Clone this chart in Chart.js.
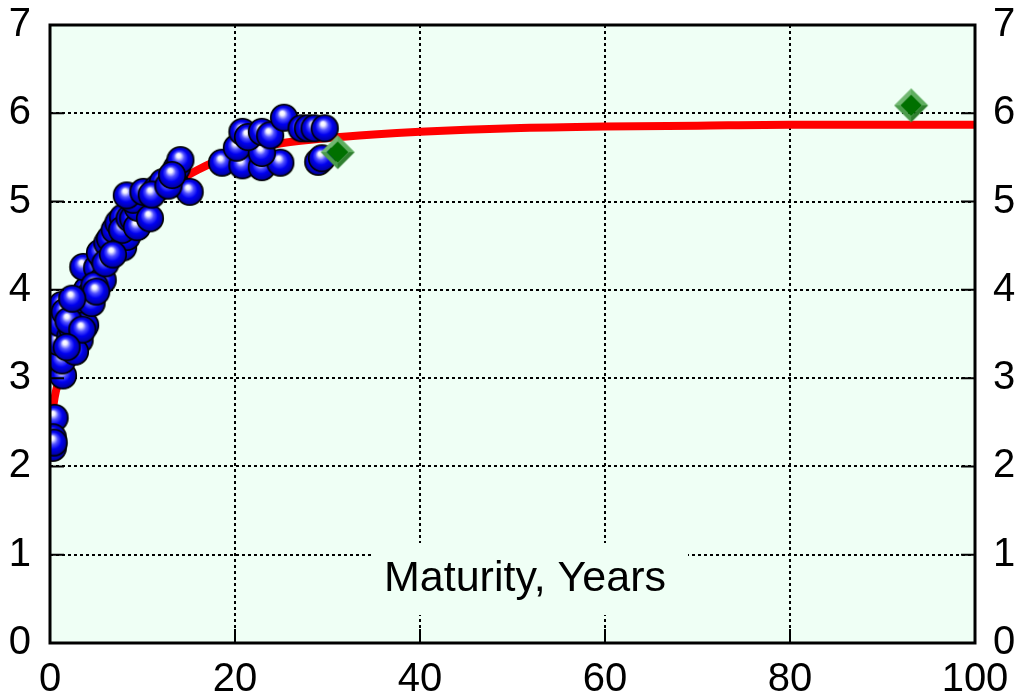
<!DOCTYPE html>
<html>
<head>
<meta charset="utf-8">
<script src="https://cdn.jsdelivr.net/npm/chart.js@4.4.1/dist/chart.umd.min.js"></script>
<style>
  html, body { margin: 0; padding: 0; background: #ffffff; }
  #wrap { width: 1018px; height: 695px; }
</style>
</head>
<body>
<div id="wrap"><canvas id="yieldChart" width="1018" height="695"></canvas></div>
<script>
// bond yields (maturity in years, yield in %)
const bondMaturity = [0.5, 0.3, 0.3, 0.4, 1.4, 1.3, 0.9, 1.1, 1.3, 1.6, 2.2, 2.5, 3.2, 3.2, 3.2, 3.8, 4.0, 4.3, 3.6, 5.1,
    5.7, 5.7, 5.4, 6.2, 6.5, 7.0, 7.4, 7.9, 7.9, 8.3, 7.8, 8.6, 9.0, 9.4, 9.5, 9.0, 8.3, 10.1, 10.8, 11.6,
    12.2, 13.5, 13.7, 14.1, 15.1, 18.6, 20.8, 22.9, 24.9, 20.2, 22.9, 20.8, 21.4, 22.9, 23.8, 25.3, 27.2, 27.9, 28.6, 29.7,
    29.0, 29.4, 2.0, 2.7, 3.5, 4.5, 4.8, 5.0, 6.0, 6.8, 2.4, 1.8, 11.0, 12.8, 13.2];
const bondYield = [2.55, 2.33, 2.21, 2.27, 3.03, 3.20, 3.41, 3.62, 3.83, 3.75, 3.47, 3.54, 3.43, 3.74, 3.86, 3.60, 4.00, 3.94, 4.26, 4.25,
    4.11, 4.37, 4.42, 4.53, 4.58, 4.68, 4.76, 4.82, 4.48, 4.60, 4.68, 4.81, 4.81, 4.71, 4.93, 5.02, 5.07, 5.11, 4.81, 5.15,
    5.22, 5.21, 5.38, 5.47, 5.11, 5.44, 5.41, 5.39, 5.44, 5.61, 5.55, 5.79, 5.73, 5.79, 5.75, 5.95, 5.83, 5.83, 5.83, 5.83,
    5.45, 5.49, 3.65, 3.30, 3.55, 3.85, 4.05, 3.98, 4.30, 4.40, 3.90, 3.35, 5.08, 5.18, 5.30];

// fitted curve
const curveMaturity = [0, 0.25, 0.5, 1, 1.5, 2, 3, 4, 5, 6, 8, 10, 12, 14, 16, 18, 20, 22, 25, 30, 35, 40, 50, 60, 70, 80, 90, 100];
const curveYield = [2.35, 2.6, 2.78, 3.0, 3.2, 3.38, 3.68, 3.93, 4.14, 4.32, 4.63, 4.88, 5.08, 5.24, 5.36, 5.46, 5.54, 5.6, 5.66, 5.72, 5.76, 5.79, 5.83, 5.85, 5.86, 5.87, 5.87, 5.87];

// long strips (green diamonds)
const stripMaturity = [31.1, 93.1];
const stripYield = [5.56, 6.09];

const xTicks = [0, 20, 40, 60, 80, 100];
const yTicks = [0, 1, 2, 3, 4, 5, 6, 7];

function toPoints(xs, ys) {
    return xs.map((x, i) => ({ x: x, y: ys[i] }));
}

function makeSphere() {
    const c = document.createElement("canvas");
    c.width = 30; c.height = 30;
    const g = c.getContext("2d");
    const grad = g.createRadialGradient(13, 10, 0.5, 15, 15, 14);
    grad.addColorStop(0, "#ffffff");
    grad.addColorStop(0.12, "#f0f0ff");
    grad.addColorStop(0.35, "#5050ff");
    grad.addColorStop(0.6, "#0000f0");
    grad.addColorStop(0.88, "#0000a8");
    grad.addColorStop(1, "#000050");
    g.beginPath();
    g.arc(15, 15, 13.3, 0, Math.PI * 2);
    g.fillStyle = grad;
    g.fill();
    g.lineWidth = 1.6;
    g.strokeStyle = "#000000";
    g.stroke();
    return c;
}

function makeDiamond() {
    const c = document.createElement("canvas");
    c.width = 36; c.height = 36;
    const g = c.getContext("2d");
    const m = 18, o = 17, n = 11;
    function face(pts, col) {
        g.beginPath();
        g.moveTo(pts[0][0], pts[0][1]);
        for (let i = 1; i < pts.length; i++) g.lineTo(pts[i][0], pts[i][1]);
        g.closePath();
        g.fillStyle = col;
        g.fill();
    }
    face([[m, m - o], [m + o, m], [m + n, m], [m, m - n]], "#5fae5f");
    face([[m, m - o], [m - o, m], [m - n, m], [m, m - n]], "#72b872");
    face([[m - o, m], [m, m + o], [m, m + n], [m - n, m]], "#4c9c4c");
    face([[m + o, m], [m, m + o], [m, m + n], [m + n, m]], "#2f7f2f");
    face([[m, m - n], [m + n, m], [m, m + n], [m - n, m]], "#007000");
    return c;
}

const plotAreaPlugin = {
    id: "plotArea",
    beforeDraw(chart) {
        const a = chart.chartArea, ctx = chart.ctx;
        ctx.save();
        ctx.fillStyle = "#effff5";
        ctx.fillRect(a.left, a.top, a.right - a.left, a.bottom - a.top);
        ctx.restore();
    },
    beforeDatasetsDraw(chart) {
        // axis title sits inside the plot on its own box
        const ctx = chart.ctx;
        ctx.save();
        ctx.fillStyle = "#effff5";
        ctx.fillRect(372, 543, 316, 72);
        ctx.fillStyle = "#000000";
        ctx.font = "43px 'Liberation Sans', Arial, sans-serif";
        ctx.textAlign = "center";
        ctx.textBaseline = "middle";
        ctx.fillText("Maturity, Years", 525, 579);
        ctx.restore();
    },
    afterDraw(chart) {
        const a = chart.chartArea, ctx = chart.ctx;
        const xs = chart.scales.x, ys = chart.scales.y;
        ctx.save();
        ctx.strokeStyle = "#000000";
        ctx.lineWidth = 2;
        ctx.beginPath();
        yTicks.forEach(v => {
            const p = ys.getPixelForValue(v);
            ctx.moveTo(a.left, p); ctx.lineTo(a.left + 14, p);
            ctx.moveTo(a.right, p); ctx.lineTo(a.right - 14, p);
        });
        xTicks.forEach(v => {
            const p = xs.getPixelForValue(v);
            ctx.moveTo(p, a.bottom); ctx.lineTo(p, a.bottom - 14);
        });
        ctx.stroke();
        ctx.lineWidth = 3;
        ctx.strokeRect(a.left, a.top, a.right - a.left, a.bottom - a.top);
        ctx.restore();
    }
};

const tickFont = { family: "'Liberation Sans Narrow', 'Arial Narrow', 'Liberation Sans', sans-serif", size: 40 };

function noPadding(s) {
    s.paddingTop = 0; s.paddingBottom = 0; s.paddingLeft = 0; s.paddingRight = 0;
}

new Chart(document.getElementById("yieldChart").getContext("2d"), {
    type: "scatter",
    data: {
        datasets: [
            {
                label: "Strips",
                data: toPoints(stripMaturity, stripYield),
                pointStyle: makeDiamond(),
                clip: 0,
                order: 1
            },
            {
                label: "Bonds",
                data: toPoints(bondMaturity, bondYield),
                pointStyle: makeSphere(),
                clip: 0,
                order: 2
            },
            {
                label: "Fitted",
                type: "line",
                data: toPoints(curveMaturity, curveYield),
                borderColor: "#ff0000",
                borderWidth: 8,
                pointRadius: 0,
                cubicInterpolationMode: "monotone",
                fill: false,
                clip: 0,
                order: 3
            }
        ]
    },
    options: {
        responsive: false,
        animation: false,
        layout: { padding: { top: 25, left: 0, right: 0, bottom: 0 } },
        plugins: {
            legend: { display: false },
            tooltip: { enabled: false }
        },
        scales: {
            x: {
                type: "linear",
                min: 0, max: 100,
                afterFit(s) { s.height = 52; noPadding(s); },
                afterBuildTicks(s) { s.ticks = xTicks.map(v => ({ value: v })); },
                ticks: { font: tickFont, color: "#000000", padding: 13, maxRotation: 0 },
                grid: { color: "#000000", lineWidth: 2, drawTicks: false },
                border: { display: false, dash: [3, 3] }
            },
            y: {
                type: "linear",
                position: "left",
                min: 0, max: 7,
                afterFit(s) { s.width = 50; noPadding(s); },
                afterBuildTicks(s) { s.ticks = yTicks.map(v => ({ value: v })); },
                ticks: { font: tickFont, color: "#000000", padding: 19 },
                grid: { color: "#000000", lineWidth: 2, drawTicks: false },
                border: { display: false, dash: [3, 3] }
            },
            y2: {
                type: "linear",
                position: "right",
                min: 0, max: 7,
                afterFit(s) { s.width = 43; noPadding(s); },
                afterBuildTicks(s) { s.ticks = yTicks.map(v => ({ value: v })); },
                ticks: { font: tickFont, color: "#000000", padding: 18 },
                grid: { display: false, drawTicks: false },
                border: { display: false }
            }
        }
    },
    plugins: [plotAreaPlugin]
});
</script>
</body>
</html>
